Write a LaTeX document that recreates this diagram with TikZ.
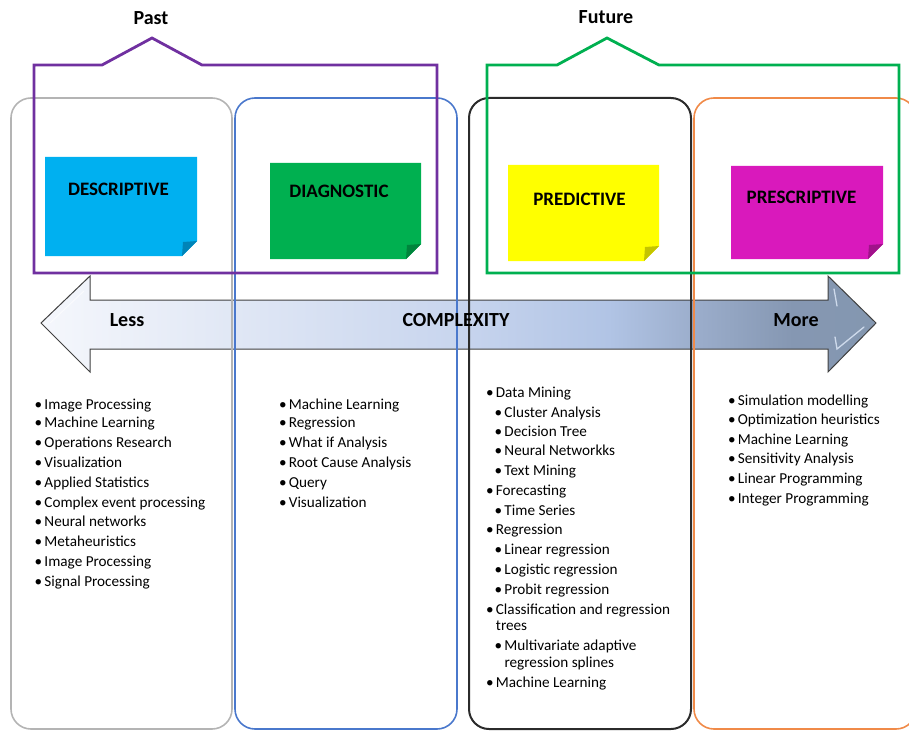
\documentclass[tikz,border=0pt]{standalone}
\usepackage{fontspec}
\setmainfont{Carlito}
\usetikzlibrary{calc}
\definecolor{aL}{HTML}{F5F7FC}
\definecolor{aA}{HTML}{E4EAF6}
\definecolor{aB}{HTML}{C8D5EE}
\definecolor{aC}{HTML}{B1C4E5}
\definecolor{aD}{HTML}{9AACCA}
\definecolor{aE}{HTML}{8597B2}
\definecolor{aR}{HTML}{8497B0}
\definecolor{cPurple}{HTML}{7030A0}
\definecolor{cGreenB}{HTML}{00B050}
\definecolor{cGray}{HTML}{B4B4B4}
\definecolor{cBlue}{HTML}{4A78CC}
\definecolor{cDark}{HTML}{2B2B2B}
\definecolor{cOrange}{HTML}{F08A48}
\definecolor{fDesc}{HTML}{00B0F0}
\definecolor{fDescD}{HTML}{0084B8}
\definecolor{fDiag}{HTML}{00B050}
\definecolor{fDiagD}{HTML}{00843C}
\definecolor{fPred}{HTML}{FFFF00}
\definecolor{fPredD}{HTML}{C4C400}
\definecolor{fPres}{HTML}{D919BC}
\definecolor{fPresD}{HTML}{A0128A}
\definecolor{gloss}{HTML}{DCE6F6}
\pgfdeclarehorizontalshading{cplx}{100bp}{color(0bp)=(aL); color(25bp)=(aL); color(34.5bp)=(aA); color(50bp)=(aB); color(59bp)=(aC); color(64.5bp)=(aD); color(70bp)=(aE); color(75bp)=(aR); color(100bp)=(aR)}
\tikzset{
  x=1pt, y=-1pt,
  col/.style={line width=1.6pt, rounded corners=20pt},
  bracket/.style={line width=2.8pt, line join=miter},
  boxn/.style={inner sep=0pt, outer sep=0pt, draw=none},
  blab/.style={inner sep=0pt, font=\fontsize{19}{22}\selectfont\bfseries},
  tlab/.style={inner sep=0pt, font=\fontsize{20}{24}\selectfont\bfseries},
  li/.style={inner sep=0pt, anchor=base west, font=\fontsize{15.2}{18}\selectfont},
  glossline/.style={gloss, line width=1.3pt, opacity=0.85, line cap=round},
}
\newcommand\bli[4]{\node[li] (#1) at (#2,#3+5) {\llap{\makebox[12pt]{\textbullet}}#4};}
\newcommand\cli[4]{\node[li] (#1) at (#2,#3+5) {#4};}
\newcommand\notebox[6]{%
  \node[boxn, minimum width=#4pt, minimum height=#5pt] (#1) at (#2,#3) {};
  \fill[#6] (#1.north west) -- (#1.north east) -- ($(#1.south east)+(0,-15)$) -- ($(#1.south east)+(-15,0)$) -- (#1.south west) -- cycle;
  \fill[#6D] ($(#1.south east)+(0,-15)$) -- ($(#1.south east)+(-15,0)$) -- ($(#1.south east)+(-14,-14)$) -- cycle;
}
\begin{document}
\begin{tikzpicture}
\useasboundingbox (0,0) rectangle (909,730);
% complexity arrow
\path[shading=cplx, shading angle=0, draw=cDark!90, line width=1pt, line join=miter]
  (41,323) -- (90,276) -- (90,300) -- (828,300) -- (828,276) -- (876,323)
  -- (828,372) -- (828,349) -- (90,349) -- (90,372) -- cycle;
\draw[glossline] (834,289) -- (837,306);
\draw[glossline] (835,337) -- (837,349) -- (864,327);
\draw[white, line width=1pt, opacity=0.6, line cap=round] (50,323) -- (84,291);
% columns
\draw[col, cGray] (11,98) rectangle (232,729);
\draw[col, cBlue] (235,98) rectangle (457,729);
\draw[col, cDark, line width=2pt] (469,98) rectangle (691,729);
\draw[col, cOrange] (694,98) rectangle (916,729);
% note boxes
\notebox{desc}{121}{206.5}{152}{99}{fDesc}
\notebox{diag}{345.5}{211}{151}{96}{fDiag}
\notebox{pred}{583.5}{213}{151}{96}{fPred}
\notebox{pres}{807}{212.5}{152}{93}{fPres}
\node[blab] (descT) at (118.5,189) {DESCRIPTIVE};
\node[blab] (diagT) at (339,191) {DIAGNOSTIC};
\node[blab] (predT) at (579.5,199) {PREDICTIVE};
\node[blab] (presT) at (801.5,197) {PRESCRIPTIVE};
% brackets
\draw[bracket, cPurple] (102,65) -- (152,38) -- (202,65) -- (437,65) -- (437,273) -- (34,273) -- (34,65) -- cycle;
\draw[bracket, cGreenB] (557,65) -- (607,38) -- (659,65) -- (899,65) -- (899,273) -- (487,273) -- (487,65) -- cycle;
\node[tlab] (past) at (151,18) {Past};
\node[tlab] (future) at (606,17) {Future};
% arrow labels
\node[tlab] (less) at (127,320) {Less};
\node[tlab] (cplxT) at (456,320) {COMPLEXITY};
\node[tlab] (more) at (796,320) {More};
% column 1
\bli{a1}{44.3}{404}{Image Processing}
\bli{a2}{44.3}{422.7}{Machine Learning}
\bli{a3}{44.3}{442.7}{Operations Research}
\bli{a4}{44.3}{462.7}{Visualization}
\bli{a5}{44.3}{482.7}{Applied Statistics}
\bli{a6}{44.3}{502.7}{Complex event processing}
\bli{a7}{44.3}{521.3}{Neural networks}
\bli{a8}{44.3}{541.3}{Metaheuristics}
\bli{a9}{44.3}{561.3}{Image Processing}
\bli{a10}{44.3}{581.3}{Signal Processing}
% column 2
\bli{b1}{288.7}{404}{Machine Learning}
\bli{b2}{288.7}{422.7}{Regression}
\bli{b3}{288.7}{442.7}{What if Analysis}
\bli{b4}{288.7}{462.7}{Root Cause Analysis}
\bli{b5}{288.7}{482.7}{Query}
\bli{b6}{288.7}{502.7}{Visualization}
% column 3
\bli{c1}{495.7}{392.3}{Data Mining}
\bli{c2}{504.3}{412.3}{Cluster Analysis}
\bli{c3}{504.3}{431}{Decision Tree}
\bli{c4}{504.3}{450.7}{Neural Networkks}
\bli{c5}{504.3}{470.7}{Text Mining}
\bli{c6}{495.7}{490.7}{Forecasting}
\bli{c7}{504.3}{510.3}{Time Series}
\bli{c8}{495.7}{529.3}{Regression}
\bli{c9}{504.3}{549.3}{Linear regression}
\bli{c10}{504.3}{569.3}{Logistic regression}
\bli{c11}{504.3}{589}{Probit regression}
\bli{c12}{495.7}{609}{Classification and regression}
\cli{c12b}{495.7}{625.3}{trees}
\bli{c13}{504.3}{645.7}{Multivariate adaptive}
\cli{c13b}{504.3}{662}{regression splines}
\bli{c14}{495.7}{682}{Machine Learning}
% column 4
\bli{d1}{737.7}{400}{Simulation modelling}
\bli{d2}{737.7}{419.7}{Optimization heuristics}
\bli{d3}{737.7}{439.7}{Machine Learning}
\bli{d4}{737.7}{458.7}{Sensitivity Analysis}
\bli{d5}{737.7}{478.7}{Linear Programming}
\bli{d6}{737.7}{498.7}{Integer Programming}
\end{tikzpicture}
\end{document}
